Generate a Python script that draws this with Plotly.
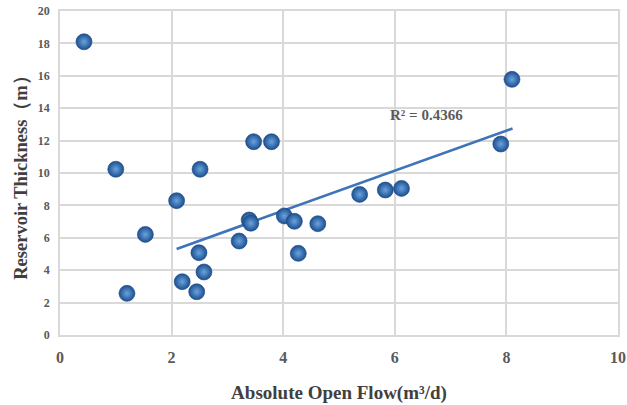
import plotly.graph_objects as go

# Data
flow = [0.43, 1.00, 1.20, 1.53, 2.09, 2.19, 2.45, 2.49, 2.51, 2.58, 3.21, 3.39, 3.42,
        3.47, 3.79, 4.02, 4.20, 4.27, 4.62, 5.37, 5.83, 6.12, 7.90, 8.10]
thickness = [18.1, 10.23, 2.57, 6.21, 8.29, 3.29, 2.67, 5.08, 10.23, 3.89, 5.80, 7.10, 6.90,
             11.93, 11.93, 7.35, 7.02, 5.04, 6.87, 8.68, 8.95, 9.05, 11.79, 15.78]

trend_x = [2.09, 8.11]
trend_y = [5.31, 12.75]
r2_text = "R² = 0.4366"

x_ticks = [0, 2, 4, 6, 8, 10]
y_ticks = [0, 2, 4, 6, 8, 10, 12, 14, 16, 18, 20]

font_family = "Liberation Serif, Times New Roman, serif"
text_color = "#5a5a5a"
title_color = "#404040"
grid_color = "#d9d9d9"

fig = go.Figure()

fig.add_trace(go.Scatter(
    x=trend_x, y=trend_y, mode="lines",
    line=dict(color="#3f75b8", width=2.6),
    hoverinfo="skip", showlegend=False,
))

fig.add_trace(go.Scatter(
    x=flow, y=thickness, mode="markers",
    marker=dict(
        size=16,
        color="#1d4f8f",
        gradient=dict(type="radial", color="#6aa3e0"),
        line=dict(width=0.6, color="#1a4780"),
    ),
    showlegend=False,
))

fig.add_annotation(
    x=6.57, y=13.6, text="<b>" + r2_text + "</b>", showarrow=False,
    font=dict(family=font_family, size=15, color=text_color),
)

fig.update_layout(
    width=627, height=405,
    margin=dict(l=60, r=9, t=11, b=70, autoexpand=False),
    paper_bgcolor="white", plot_bgcolor="white",
    font=dict(family=font_family, color=text_color),
)

fig.update_xaxes(
    range=[0, 10], tickvals=x_ticks, ticktext=["<b>%d</b>" % v for v in x_ticks],
    tickfont=dict(family=font_family, size=16, color=text_color),
    showgrid=True, gridcolor=grid_color, gridwidth=1.5,
    zeroline=False, showline=True, linecolor=grid_color, linewidth=1.5, mirror=True,
    ticks="", ticklabelstandoff=7, automargin=False,
    title=dict(text="<b>Absolute Open Flow(m³/d)</b>",
               font=dict(family=font_family, size=19, color=title_color), standoff=21),
)

fig.update_yaxes(
    range=[0, 20], tickvals=y_ticks, ticktext=["<b>%d</b>" % v for v in y_ticks],
    tickfont=dict(family=font_family, size=12, color=text_color),
    showgrid=True, gridcolor=grid_color, gridwidth=1.5,
    zeroline=False, showline=True, linecolor=grid_color, linewidth=1.5, mirror=True,
    ticks="", ticklabelstandoff=6, automargin=False,
    title=dict(text="<b>Reservoir Thickness（m）</b>",
               font=dict(family=font_family, size=18.5, color=title_color), standoff=5),
)

fig.write_html(
    "out.html",
    config={"displayModeBar": False},
    post_script="document.body.style.margin='0';document.body.style.overflow='hidden';",
)
